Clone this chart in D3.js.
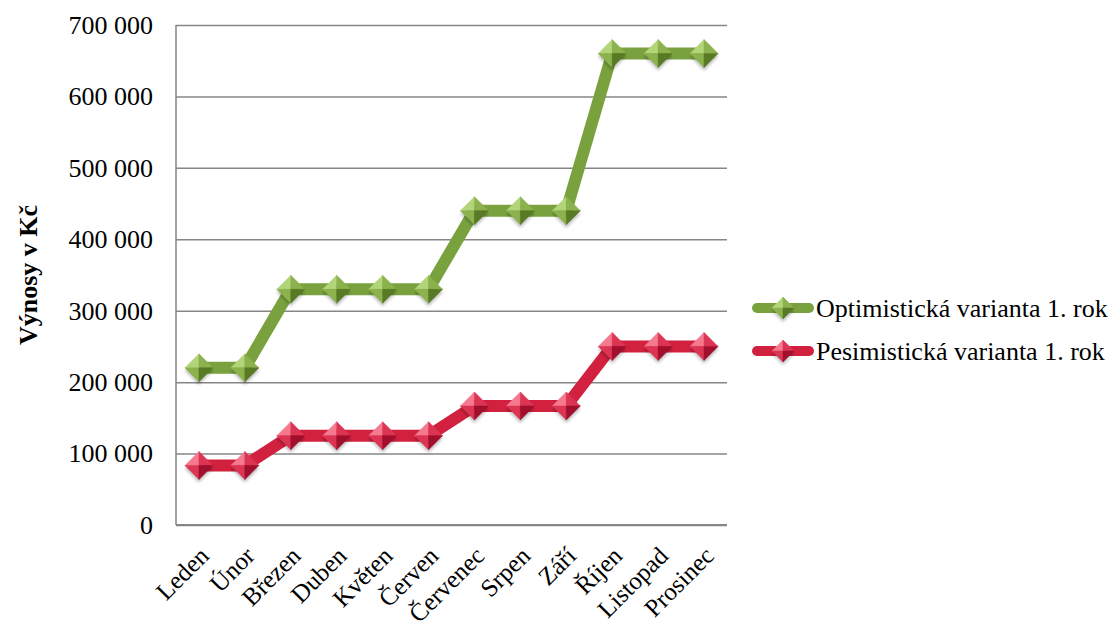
<!DOCTYPE html>
<html>
<head>
  <meta charset="utf-8">
  <title>Výnosy v Kč</title>
  <script src="https://cdn.jsdelivr.net/npm/d3@7/dist/d3.min.js"></script>
  <style>
    body { margin: 0; background: #fff; }
    text { font-family: "Liberation Serif", "Times New Roman", serif; fill: #000; }
  </style>
</head>
<body>
<div id="chart"></div>
<script>
  // data
  const months = ['Leden', 'Únor', 'Březen', 'Duben', 'Květen', 'Červen',
                  'Červenec', 'Srpen', 'Září', 'Říjen', 'Listopad', 'Prosinec'];
  const optimistic = [220000, 220000, 330000, 330000, 330000, 330000,
                      440000, 440000, 440000, 660000, 660000, 660000];
  const pessimistic = [83333, 83333, 125000, 125000, 125000, 125000,
                       166667, 166667, 166667, 250000, 250000, 250000];
  const yTicks = [0, 100000, 200000, 300000, 400000, 500000, 600000, 700000];
  const seriesNames = ['Optimistická varianta 1. rok', 'Pesimistická varianta 1. rok'];

  const W = 1118, H = 623;
  const plot = { left: 176, right: 727, top: 25, bottom: 525 };

  const series = [
    { name: seriesNames[0], values: optimistic, line: '#79a23f', light: '#b3d57a', mid: '#8bb24d', dark: '#587a25' },
    { name: seriesNames[1], values: pessimistic, line: '#d2213f', light: '#f57a90', mid: '#dc3553', dark: '#a10f2d' }
  ];

  const svg = d3.select('#chart').append('svg')
    .attr('width', W).attr('height', H);

  const defs = svg.append('defs');
  defs.append('filter').attr('id', 'shadow')
    .attr('x', '-50%').attr('y', '-50%').attr('width', '200%').attr('height', '200%')
    .append('feGaussianBlur').attr('stdDeviation', 1.5);

  const x = d3.scaleBand().domain(months).range([plot.left, plot.right]);
  const y = d3.scaleLinear().domain([0, 700000]).range([plot.bottom, plot.top]);
  const fmt = v => d3.format(',')(v).replace(/,/g, ' ');

  // gridlines + y labels
  const yAxis = d3.axisLeft(y).tickValues(yTicks).tickSize(-(plot.right - plot.left))
    .tickPadding(23).tickFormat(fmt);
  const gy = svg.append('g').attr('transform', `translate(${plot.left},0)`).call(yAxis);
  gy.select('.domain').remove();
  gy.selectAll('.tick line').attr('stroke', '#868686').attr('stroke-width', 1.5);
  gy.selectAll('.tick text').attr('font-size', 26).attr('font-family', 'Liberation Serif');

  // axis lines
  svg.append('line')
    .attr('x1', plot.left).attr('x2', plot.left).attr('y1', plot.top).attr('y2', plot.bottom)
    .attr('stroke', '#868686').attr('stroke-width', 1.5);
  svg.append('line')
    .attr('x1', plot.left).attr('x2', plot.right).attr('y1', plot.bottom).attr('y2', plot.bottom)
    .attr('stroke', '#868686').attr('stroke-width', 2);

  // x labels, rotated
  svg.append('g').selectAll('text').data(months).join('text')
    .attr('transform', d => `translate(${x(d) + x.bandwidth() / 2 - 1},545) rotate(-45)`)
    .attr('text-anchor', 'end')
    .attr('dy', '0.7em')
    .attr('font-size', 25)
    .text(d => d);

  // y title
  svg.append('text')
    .attr('transform', 'translate(37,275) rotate(-90)')
    .attr('text-anchor', 'middle')
    .attr('font-size', 26)
    .attr('font-weight', 'bold')
    .text('Výnosy v Kč');

  function diamond(g, s, r) {
    // shadow
    g.append('path')
      .attr('d', `M0,${-r + 3} L${r},3 L0,${r + 3} L${-r},3 Z`)
      .attr('fill', 'rgba(0,0,0,0.25)').attr('filter', 'url(#shadow)');
    const facets = [
      { d: `M0,${-r} L${-r},0 L0,0 Z`, c: s.light },
      { d: `M0,${-r} L${r},0 L0,0 Z`, c: s.mid },
      { d: `M${-r},0 L0,${r} L0,0 Z`, c: s.mid },
      { d: `M${r},0 L0,${r} L0,0 Z`, c: s.dark }
    ];
    facets.forEach(f => g.append('path').attr('d', f.d).attr('fill', f.c)
      .attr('stroke', f.c).attr('stroke-width', 0.5));
  }

  const line = d3.line()
    .x((d, i) => x(months[i]) + x.bandwidth() / 2)
    .y(d => y(d));

  series.forEach(s => {
    svg.append('path')
      .datum(s.values)
      .attr('d', line)
      .attr('fill', 'none')
      .attr('stroke', s.line)
      .attr('stroke-width', 12)
      .attr('stroke-linejoin', 'round');
  });

  series.forEach(s => {
    svg.append('g').selectAll('g').data(s.values).join('g')
      .attr('transform', (d, i) => `translate(${x(months[i]) + x.bandwidth() / 2},${y(d)})`)
      .each(function () { diamond(d3.select(this), s, 14); });
  });

  // legend
  const legend = svg.append('g');
  series.forEach((s, i) => {
    const ly = 308 + i * 43;
    legend.append('line')
      .attr('x1', 757).attr('x2', 809).attr('y1', ly).attr('y2', ly)
      .attr('stroke', s.line).attr('stroke-width', 10).attr('stroke-linecap', 'round');
    const mg = legend.append('g').attr('transform', `translate(783,${ly})`);
    diamond(mg, s, 11);
    legend.append('text')
      .attr('x', 816).attr('y', ly + 9)
      .attr('font-size', 26)
      .text(s.name);
  });
</script>
</body>
</html>
